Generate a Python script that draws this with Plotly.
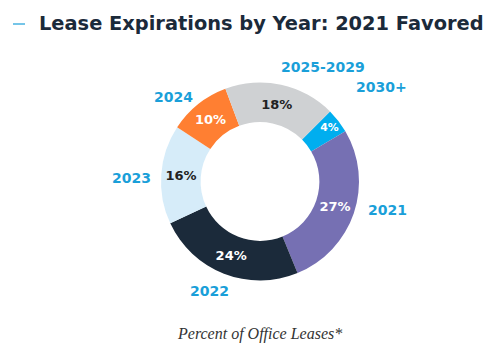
import plotly.graph_objects as go

# Lease expiration share by year (percent of office leases)
years = ["2030+", "2021", "2022", "2023", "2024", "2025-2029"]
shares = [4, 27, 24, 16, 10, 18]
slice_colors = ["#00aeef", "#7670b3", "#1b2a3a", "#d6ecf9", "#ff7f32", "#cfd1d3"]
pct_colors = ["white", "white", "white", "#222222", "white", "#222222"]

W, H = 499, 343
BOLD_FONT = "DejaVu Sans"

fig = go.Figure(
    go.Pie(
        labels=years,
        values=shares,
        sort=False,
        direction="clockwise",
        rotation=45,
        hole=0.6,
        marker=dict(colors=slice_colors, line=dict(color="white", width=0)),
        texttemplate="%{value}%",
        textposition="inside",
        insidetextorientation="horizontal",
        textfont=dict(family=BOLD_FONT, size=13, color=pct_colors, weight="bold"),
        domain=dict(x=[161 / W, 359 / W], y=[1 - 281 / H, 1 - 82 / H]),
        showlegend=False,
        hoverinfo="label+percent",
    )
)

# year labels around the ring (pixel anchors)
label_pos = {
    "2030+": (381, 87),
    "2021": (387, 210),
    "2022": (209, 291),
    "2023": (131, 178),
    "2024": (173, 97),
    "2025-2029": (323, 67),
}
for yr in years:
    px, py = label_pos[yr]
    fig.add_annotation(
        x=px / W, y=1 - py / H, xref="paper", yref="paper",
        text=yr, showarrow=False, xanchor="center", yanchor="middle",
        font=dict(family=BOLD_FONT, size=14, color="#1a9fd9", weight="bold"),
    )

# heading with leading accent dash
fig.add_shape(type="line", xref="paper", yref="paper",
              x0=13 / W, x1=25 / W, y0=1 - 24 / H, y1=1 - 24 / H,
              line=dict(color="#1a9fd9", width=1.2))
fig.add_annotation(
    x=37 / W, y=1 - 23 / H, xref="paper", yref="paper",
    text="Lease Expirations by Year: 2021 Favored", showarrow=False,
    xanchor="left", yanchor="middle",
    font=dict(family=BOLD_FONT, size=19.4, color="#1b2a3a", weight="bold"),
)
fig.add_annotation(
    x=259 / W, y=1 - 334 / H, xref="paper", yref="paper",
    text="<i>Percent of Office Leases*</i>", showarrow=False,
    xanchor="center", yanchor="middle",
    font=dict(family="Liberation Serif", size=16, color="#333333"),
)

fig.update_layout(
    width=W, height=H,
    margin=dict(l=0, r=0, t=0, b=0),
    paper_bgcolor="white", plot_bgcolor="white",
)

fig.write_html("out.html")
